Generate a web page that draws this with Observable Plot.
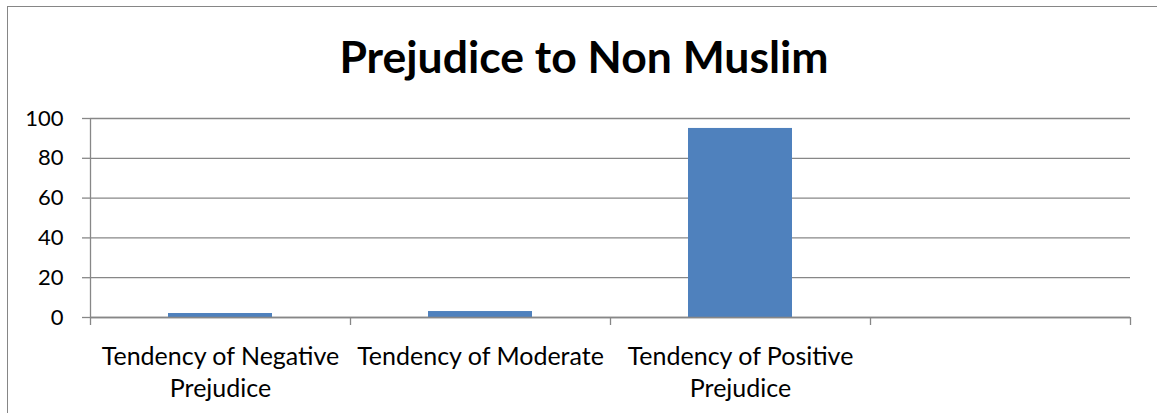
<!DOCTYPE html>
<html>
<head>
<meta charset="utf-8">
<script src="https://cdn.jsdelivr.net/npm/d3@7"></script>
<script src="https://cdn.jsdelivr.net/npm/@observablehq/plot@0.6"></script>
<style>
  html, body { margin: 0; padding: 0; background: #fff; }
  #wrap { position: relative; width: 1157px; height: 413px; overflow: hidden; font-family: Lato, "Open Sans", sans-serif; }
  #frame { position: absolute; left: 7px; top: 6px; width: 1170px; height: 430px; border: 1.5px solid #868686; box-sizing: border-box; }
  #title { position: absolute; left: 7px; width: 1154px; top: 34px; text-align: center; font-weight: bold; font-size: 44.5px; color: #000; line-height: 1; }
  #chart { position: absolute; left: 0; top: 0; }
</style>
</head>
<body>
<div id="wrap">
  <div id="frame"></div>
  <div id="title">Prejudice to Non Muslim</div>
  <div id="chart"></div>
</div>
<script>
const title = "Prejudice to Non Muslim";
const categories = ["Tendency of Negative\nPrejudice", "Tendency of Moderate", "Tendency of Positive\nPrejudice", ""];
const values = [2, 3, 95, null];
const yTicks = [0, 20, 40, 60, 80, 100];

document.getElementById("title").textContent = title;

const data = categories.map((c, i) => ({cat: c, idx: i, value: values[i]}));
const barHalf = 0.2; // gap width 150%
const gridColor = "#878787";
const boundaries = d3.range(categories.length + 1);
const centers = categories.map((c, i) => i + 0.5);

const chart = Plot.plot({
  width: 1157,
  height: 413,
  marginLeft: 90,
  marginRight: 27,
  marginTop: 118,
  marginBottom: 96,
  style: {fontFamily: "Lato, 'Open Sans', sans-serif", background: "transparent", color: "#000"},
  x: {type: "linear", domain: [0, categories.length], axis: null},
  y: {domain: [0, 100], axis: null},
  marks: [
    Plot.gridY(yTicks, {stroke: gridColor, strokeOpacity: 1, strokeWidth: 1.3}),
    Plot.rectY(data.filter(d => d.value != null), {
      x1: d => d.idx + 0.5 - barHalf,
      x2: d => d.idx + 0.5 + barHalf,
      y1: 0,
      y2: "value",
      fill: "#4F81BD",
      inset: 0
    }),
    Plot.ruleX([0], {stroke: gridColor, strokeWidth: 1.3}),
    Plot.ruleY([0], {stroke: gridColor, strokeWidth: 1.3}),
    Plot.axisY({ticks: yTicks, tickSize: 8, tickPadding: 19, stroke: gridColor, strokeOpacity: 1, strokeWidth: 1.3, fontSize: 22, label: null, color: "#000"}),
    Plot.axisX({ticks: boundaries, tickSize: 8, tickFormat: () => "", stroke: gridColor, strokeOpacity: 1, strokeWidth: 1.3, label: null}),
    Plot.axisX({ticks: centers, tickSize: 0, tickPadding: 25, tickFormat: (d) => categories[Math.floor(d)], fontSize: 25, lineHeight: 1.28, label: null, color: "#000"})
  ]
});
document.getElementById("chart").appendChild(chart);
</script>
</body>
</html>
